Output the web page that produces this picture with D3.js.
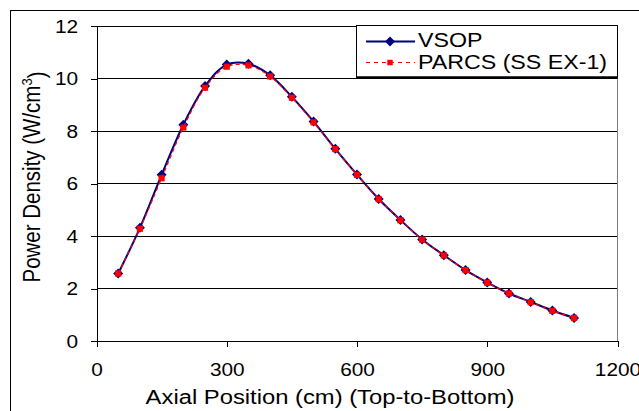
<!DOCTYPE html>
<html>
<head>
<meta charset="utf-8">
<script src="https://cdn.jsdelivr.net/npm/d3@7"></script>
<style>
    body { margin: 0; background: #fff; }
    text { font-family: "Liberation Sans", Arial, sans-serif; fill: #000; }
</style>
</head>
<body>
<main></main>
<script>
// data
let positions = [50, 100, 150, 200, 250, 300, 350, 400, 450, 500, 550,
    600, 650, 700, 750, 800, 850, 900, 950, 1000, 1050, 1100]
let vsop = [2.57, 4.31, 6.33, 8.24, 9.71, 10.53, 10.56, 10.12, 9.30, 8.36, 7.32,
    6.34, 5.41, 4.61, 3.87, 3.27, 2.70, 2.23, 1.81, 1.49, 1.16, 0.88]
let parcs = [2.57, 4.28, 6.20, 8.13, 9.65, 10.45, 10.50, 10.08, 9.27, 8.33, 7.31,
    6.33, 5.40, 4.60, 3.86, 3.26, 2.70, 2.22, 1.81, 1.48, 1.15, 0.88]
let xTicks = [0, 300, 600, 900, 1200]
let yTicks = [0, 2, 4, 6, 8, 10, 12]
let seriesNames = ["VSOP", "PARCS (SS EX-1)"]

// text in the picture is a bit wider than normal Arial
let stretch = 1.19

let svg = d3.select('main').append('svg')
    .attr('width', 639)
    .attr('height', 411)
    .style('background', '#fff')
    .style('display', 'block')

let x = d3.scaleLinear().domain([0, 1200]).range([96.5, 617.5])
let y = d3.scaleLinear().domain([0, 12]).range([341, 26])

// outer chart frame (runs off the right and bottom)
svg.append('rect')
    .attr('x', 10.5)
    .attr('y', 10.5)
    .attr('width', 700)
    .attr('height', 500)
    .attr('fill', 'none')
    .attr('stroke', '#000')

// grid lines
svg.append('g')
    .selectAll('line')
    .data(yTicks.filter(d => d > 0))
    .join('line')
    .attr('x1', x(0))
    .attr('x2', x(1200))
    .attr('y1', d => y(d))
    .attr('y2', d => y(d))
    .attr('stroke', '#000')
    .attr('shape-rendering', 'crispEdges')

// plot area right border
svg.append('line')
    .attr('x1', x(1200))
    .attr('x2', x(1200))
    .attr('y1', y(12))
    .attr('y2', y(0))
    .attr('stroke', '#808080')
    .attr('shape-rendering', 'crispEdges')

// axes
let yAxis = svg.append('g')
    .attr('transform', `translate(${x(0)},0)`)
    .call(d3.axisLeft(y).tickValues(yTicks).tickSize(6).tickSizeOuter(0))
yAxis.selectAll('path, line').attr('stroke', '#000').attr('shape-rendering', 'crispEdges')
yAxis.selectAll('text')
    .attr('x', -15.5)
    .attr('dy', '0.35em')
    .attr('transform', `scale(${stretch},1)`)
    .style('font-size', '17.5px')
    .style('font-family', '"Liberation Sans", Arial, sans-serif')

let xAxis = svg.append('g')
    .attr('transform', `translate(0,${y(0)})`)
    .call(d3.axisBottom(x).tickValues(xTicks).tickFormat(d3.format('d')).tickSize(6).tickSizeOuter(0))
xAxis.selectAll('path, line').attr('stroke', '#000').attr('shape-rendering', 'crispEdges')
xAxis.selectAll('text')
    .attr('y', 35)
    .attr('dy', 0)
    .style('font-size', '17.5px')
    .style('font-family', '"Liberation Sans", Arial, sans-serif')
// stretch each tick label around its own tick position
xAxis.selectAll('.tick text')
    .attr('transform', `scale(${stretch},1)`)
    .attr('x', 0)

// axis titles
svg.append('g')
    .attr('transform', `translate(330,404) scale(${stretch},1)`)
    .append('text')
    .attr('text-anchor', 'middle')
    .style('font-size', '20px')
    .text('Axial Position (cm) (Top-to-Bottom)')

let yTitle = svg.append('g')
    .attr('transform', `translate(40,177) scale(${stretch},1) rotate(-90)`)
    .append('text')
    .attr('text-anchor', 'middle')
    .style('font-size', '20.5px')
yTitle.append('tspan').text('Power Density (W/cm')
yTitle.append('tspan').attr('dy', '-0.55em').style('font-size', '13px').text('3')
yTitle.append('tspan').attr('dy', '0.55em').text(')')

// series
let vsopData = positions.map((p, i) => [p, vsop[i]])
let parcsData = positions.map((p, i) => [p, parcs[i]])

let line = d3.line()
    .x(d => x(d[0]))
    .y(d => y(d[1]))
    .curve(d3.curveCatmullRom.alpha(0.5))

svg.append('path')
    .datum(vsopData)
    .attr('d', line)
    .style('fill', 'none')
    .style('stroke', '#000080')
    .style('stroke-width', 2)

let diamond = d3.symbol(d3.symbolSquare).size(50)
svg.append('g')
    .selectAll('path')
    .data(vsopData)
    .join('path')
    .attr('d', diamond)
    .attr('transform', d => `translate(${x(d[0])},${y(d[1])}) rotate(45)`)
    .attr('fill', '#000080')

svg.append('path')
    .datum(parcsData)
    .attr('d', line)
    .style('fill', 'none')
    .style('stroke', '#ff0000')
    .style('stroke-width', 1.2)
    .style('stroke-dasharray', '4,3')

let square = d3.symbol(d3.symbolSquare).size(38)
svg.append('g')
    .selectAll('path')
    .data(parcsData)
    .join('path')
    .attr('d', square)
    .attr('transform', d => `translate(${x(d[0])},${y(d[1])})`)
    .attr('fill', '#ff0000')

// legend
let legend = svg.append('g')
legend.append('rect')
    .attr('x', 356.5)
    .attr('y', 25.5)
    .attr('width', 261)
    .attr('height', 51.5)
    .attr('fill', '#fff')
    .attr('stroke', '#000')
legend.append('line')
    .attr('x1', 356)
    .attr('x2', 618)
    .attr('y1', 77.5)
    .attr('y2', 77.5)
    .attr('stroke', '#000')
    .attr('stroke-width', 2)

legend.append('line')
    .attr('x1', 366).attr('x2', 415)
    .attr('y1', 41.5).attr('y2', 41.5)
    .style('stroke', '#000080')
    .style('stroke-width', 2)
legend.append('path')
    .attr('d', diamond)
    .attr('transform', 'translate(390,41.5) rotate(45)')
    .attr('fill', '#000080')

legend.append('line')
    .attr('x1', 366).attr('x2', 415)
    .attr('y1', 62.5).attr('y2', 62.5)
    .style('stroke', '#ff0000')
    .style('stroke-width', 1.2)
    .style('stroke-dasharray', '4,4')
legend.append('path')
    .attr('d', d3.symbol(d3.symbolSquare).size(30))
    .attr('transform', 'translate(390,62.5)')
    .attr('fill', '#ff0000')

legend.selectAll('g.label')
    .data(seriesNames)
    .join('g')
    .attr('class', 'label')
    .attr('transform', (d, i) => `translate(418,${47.3 + i * 22}) scale(${stretch},1)`)
    .append('text')
    .style('font-size', '19.5px')
    .text(d => d)
</script>
</body>
</html>
